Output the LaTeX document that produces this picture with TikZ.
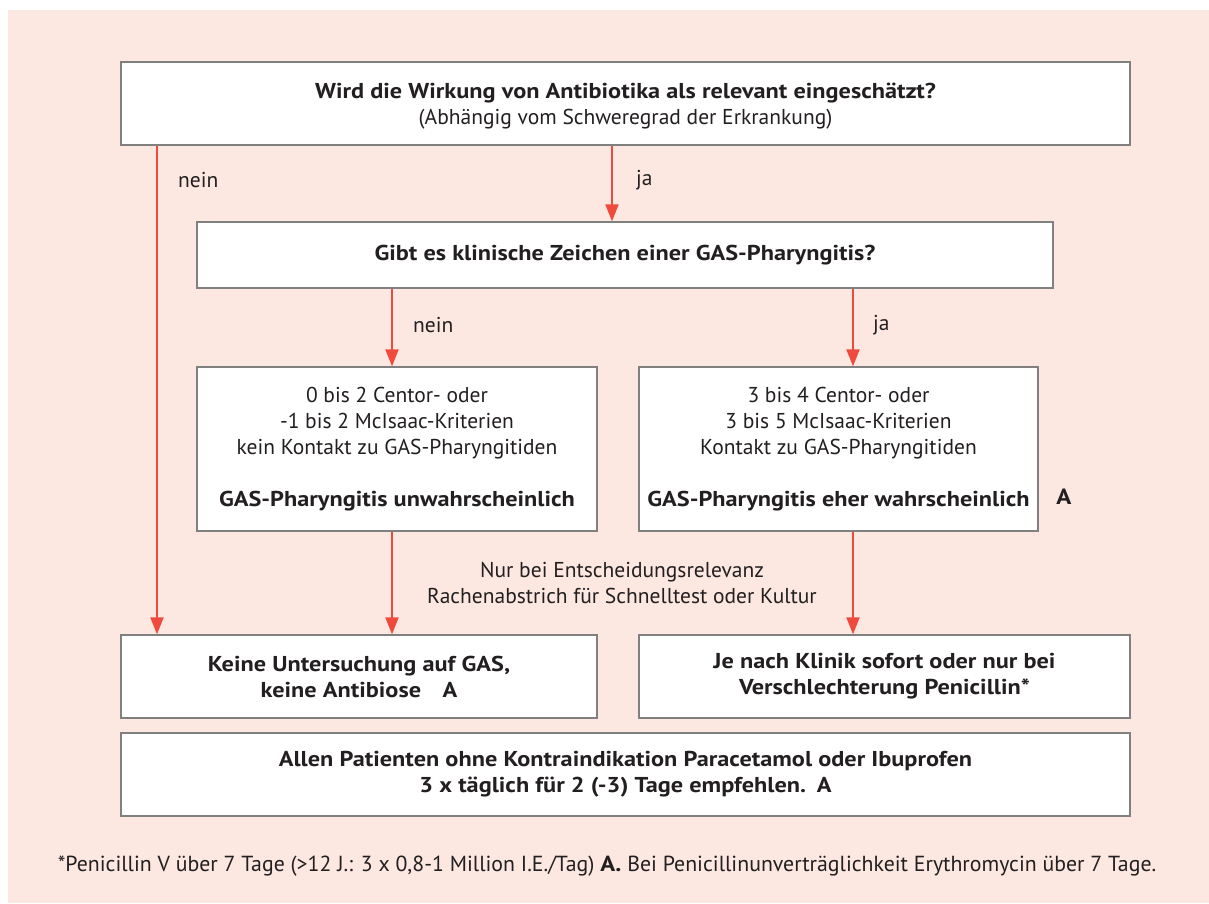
\documentclass[tikz,border=0pt]{standalone}
\usepackage{fontspec}
\setmainfont{PT Sans}[BoldFeatures={FakeStretch=1.13}]
\usetikzlibrary{positioning, arrows.meta}
\definecolor{bgpink}{HTML}{FCE8E1}
\definecolor{arrred}{HTML}{EE4B3E}
\definecolor{boxgray}{HTML}{808080}
\definecolor{txt}{HTML}{231F20}

\tikzset{
	box/.style={rectangle, draw=boxgray, line width=1.3pt, fill=white, align=center, inner sep=0pt, font=\fontsize{21.5}{26}\selectfont, text=txt},
	arr/.style={draw=arrred, line width=2pt, -{Triangle[width=13pt,length=17pt]}},
	lbl/.style={font=\fontsize{21.5}{26}\selectfont, text=txt, inner sep=0pt},
}

\begin{document}
\begin{tikzpicture}[x=1pt, y=-1pt]
		\useasboundingbox (0,0) rectangle (1209,903);
		\fill[bgpink] (8,10) rectangle (1209,903);
		
		\node[box, minimum width=1009pt, minimum height=83pt] (q1) at (625.5,103.5) {};
		\node[lbl, align=center] (q1-text) at (625.5,106) {\textbf{Wird die Wirkung von Antibiotika als relevant eingeschätzt?}\\(Abhängig vom Schweregrad der Erkrankung)};
		
		\node[box, minimum width=856pt, minimum height=66pt] (q2) at (625,255) {\textbf{Gibt es klinische Zeichen einer GAS-Pharyngitis?}};
		
		\node[box, minimum width=400pt, minimum height=164pt] (unw) at (397,449) {0 bis 2 Centor- oder\\-1 bis 2 McIsaac-Kriterien\\kein Kontakt zu GAS-Pharyngitiden\\[26pt]\textbf{GAS-Pharyngitis unwahrscheinlich}};
		
		\node[box, minimum width=399pt, minimum height=164pt] (wahr) at (838.5,449) {3 bis 4 Centor- oder\\3 bis 5 McIsaac-Kriterien\\Kontakt zu GAS-Pharyngitiden\\[26pt]\textbf{GAS-Pharyngitis eher wahrscheinlich}};
		\node[lbl, font=\fontsize{22}{26}\selectfont\bfseries] (wahr-a) at (1064,497) {A};
		
		\node[box, minimum width=476pt, minimum height=83pt] (keine) at (359,676.5) {\textbf{Keine Untersuchung auf GAS,}\\\textbf{keine Antibiose\quad A}};
		
		\node[box, minimum width=491pt, minimum height=83pt] (peni) at (884.5,676.5) {\textbf{Je nach Klinik sofort oder nur bei}\\\textbf{Verschlechterung Penicillin*}};
		
		\node[box, minimum width=1009pt, minimum height=83pt] (alle) at (625.5,774.5) {\textbf{Allen Patienten ohne Kontraindikation Paracetamol oder Ibuprofen}\\\textbf{3 x täglich für 2 (-3) Tage empfehlen.\enspace A}};
		
		% arrows
		\coordinate (nl) at (157,0);
		\coordinate (jm) at (612,0);
		\coordinate (nm) at (392,0);
		\coordinate (jr) at (853,0);
		
		\draw[arr] (q1.south -| nl) -- (keine.north -| nl);
		\node[lbl, anchor=west] (nein1) at (178,180) {nein};
		
		\draw[arr] (q1.south -| jm) -- (q2.north -| jm);
		\node[lbl, anchor=west] (ja1) at (636,180) {ja};
		
		\draw[arr] (q2.south -| nm) -- (unw.north -| nm);
		\node[lbl, anchor=west] (nein2) at (413,325) {nein};
		
		\draw[arr] (q2.south -| jr) -- (wahr.north -| jr);
		\node[lbl, anchor=west] (ja2) at (873,325) {ja};
		
		\draw[arr] (unw.south -| nm) -- (keine.north -| nm);
		\draw[arr] (wahr.south -| jr) -- (peni.north -| jr);
		
		\node[lbl, align=center] (abstrich) at (622,583) {Nur bei Entscheidungsrelevanz\\Rachenabstrich für Schnelltest oder Kultur};
		
		\node[lbl, font=\fontsize{21.8}{26}\selectfont] (fn) at (607,866) {*Penicillin V über 7 Tage (>12 J.: 3 x 0,8-1 Million I.E./Tag) \textbf{A.} Bei Penicillinunverträglichkeit Erythromycin über 7 Tage.};
		
	\end{tikzpicture}
\end{document}
